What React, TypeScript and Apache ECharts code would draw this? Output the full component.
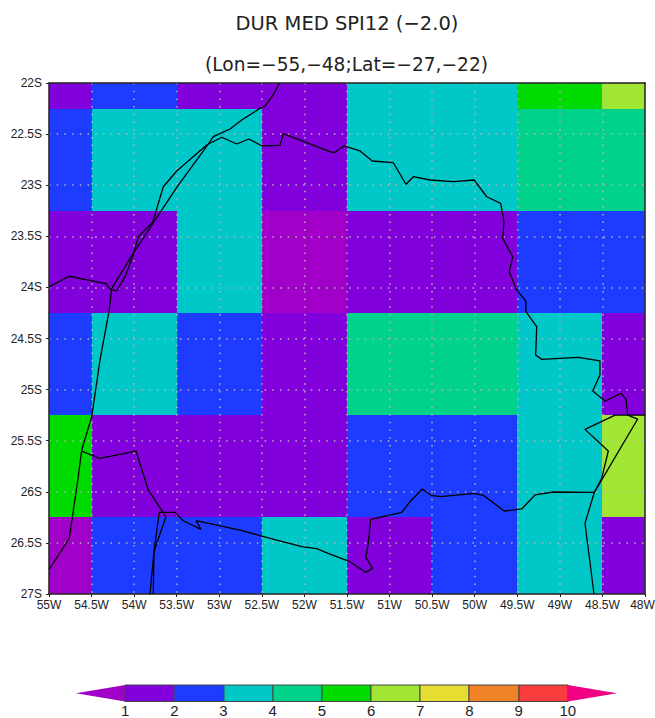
import React, { useEffect, useRef } from "react";
import * as echarts from "echarts";

const titleMain = "DUR MED SPI12 (−2.0)";
const titleSub = "(Lon=−55,−48;Lat=−27,−22)";

const lonEdges = [-55, -54.5, -53.5, -52.5, -51.5, -50.5, -49.5, -48.5, -48];
const latEdges = [-22, -22.25, -23.25, -24.25, -25.25, -26.25, -27];

// Duration class read per grid cell, north to south, west to east
const rowValues = [
  [1.5, 2.5, 1.5, 1.5, 3.5, 3.5, 5.5, 6.5],
  [2.5, 3.5, 3.5, 1.5, 3.5, 3.5, 4.5, 4.5],
  [1.5, 1.5, 3.5, 0.5, 1.5, 1.5, 2.5, 2.5],
  [2.5, 3.5, 2.5, 1.5, 4.5, 4.5, 3.5, 1.5],
  [5.5, 1.5, 1.5, 1.5, 2.5, 2.5, 3.5, 6.5],
  [0.5, 2.5, 2.5, 3.5, 1.5, 2.5, 3.5, 1.5],
];

const levels = [1, 2, 3, 4, 5, 6, 7, 8, 9, 10];
const palette = ["#a000c8", "#8200dc", "#1e3cff", "#00c8c8", "#00d28c", "#00dc00", "#a0e632", "#e6dc32", "#f08228", "#fa3c3c", "#f00082"];

const borderA = [
  [-52.295, -22.003], [-52.366, -22.117], [-52.463, -22.225], [-52.502, -22.238], [-52.737, -22.362], [-52.874, -22.45],
  [-53.07, -22.525], [-53.129, -22.597], [-53.5, -23.021], [-54.01, -23.666], [-54.264, -24.009], [-54.292, -24.221],
  [-54.401, -24.71], [-54.498, -25.265], [-54.616, -25.591], [-54.656, -25.852], [-54.762, -26.455], [-54.996, -26.758],
];
const borderB = [
  [-54.996, -23.993], [-54.762, -23.891], [-54.331, -23.964], [-54.272, -24.025], [-54.205, -24.035], [-54.107, -23.895],
  [-54.01, -23.683], [-53.951, -23.504], [-53.782, -23.363], [-53.658, -23.015], [-53.5, -22.861], [-53.148, -22.607],
  [-52.972, -22.531], [-52.795, -22.597], [-52.651, -22.548], [-52.502, -22.614], [-52.287, -22.61], [-52.248, -22.496],
  [-51.7, -22.672], [-51.653, -22.682], [-51.535, -22.616], [-51.347, -22.665], [-51.203, -22.763], [-50.956, -22.78],
  [-50.807, -22.991], [-50.721, -22.917], [-50.525, -22.949], [-50.252, -22.966], [-50.008, -22.949], [-49.859, -23.113],
  [-49.695, -23.177], [-49.656, -23.357], [-49.671, -23.52], [-49.554, -23.7], [-49.594, -23.846], [-49.507, -24.025],
  [-49.401, -24.133], [-49.398, -24.238], [-49.272, -24.385], [-49.284, -24.662], [-49.213, -24.704], [-48.783, -24.684],
  [-48.529, -24.72], [-48.529, -24.857], [-48.614, -25.014], [-48.47, -25.112], [-48.282, -25.036], [-48.223, -25.095],
  [-48.203, -25.249], [-48.086, -25.288], [-48.595, -26.005], [-48.705, -26.308], [-48.599, -27],
];
const borderC = [
  [-48, -25.249], [-48.352, -25.249], [-48.705, -25.389], [-48.431, -25.601], [-48.509, -25.868], [-48.595, -26.005],
  [-49.077, -26.002], [-49.292, -26.031], [-49.448, -26.168], [-49.653, -26.188], [-49.899, -26.034], [-50.008, -26.015],
  [-50.396, -26.048], [-50.513, -26.034], [-50.616, -25.973], [-50.76, -26.097], [-50.858, -26.201], [-51.222, -26.269],
  [-51.25, -26.504], [-51.28, -26.641], [-51.198, -26.749], [-51.28, -26.788], [-51.465, -26.684], [-51.7, -26.609],
  [-51.856, -26.557], [-52.032, -26.537], [-52.502, -26.433], [-52.757, -26.374], [-53.273, -26.283], [-53.215, -26.367],
  [-53.423, -26.283], [-53.52, -26.201], [-53.705, -26.201], [-53.767, -26.586], [-53.775, -27],
];
const borderD = [
  [-54.616, -25.601], [-54.401, -25.672], [-53.978, -25.601], [-53.834, -25.982], [-53.626, -26.244], [-53.735, -26.504],
  [-53.767, -26.586], [-53.814, -27],
];

const colorOf = (v: number) => {
  const i = levels.findIndex((l) => v < l);
  return palette[i < 0 ? palette.length - 1 : i];
};

const cells: number[][] = [];
rowValues.forEach((row, r) =>
  row.forEach((v, c) => cells.push([lonEdges[c], latEdges[r + 1], lonEdges[c + 1], latEdges[r], v]))
);
const barBins = palette.map((_, i) => [i, i + 1, i]);

const LABEL_FONT = "'Liberation Sans', Arial, sans-serif";
const TITLE_FONT = "'DejaVu Sans', sans-serif";

const borderSeries = [borderA, borderB, borderC, borderD].map((data) => ({
  type: "line",
  xAxisIndex: 0,
  yAxisIndex: 0,
  data,
  showSymbol: false,
  symbol: "none",
  z: 6,
  silent: true,
  lineStyle: { color: "#000", width: 1.3 },
}));

const dotted = { show: true, lineStyle: { color: "#b4b4b4", width: 1.5, type: [1.5, 6.2] as number[] } };

export default function App() {
  const ref = useRef<HTMLDivElement>(null);
  useEffect(() => {
    const chart = echarts.init(ref.current!, null, { renderer: "svg" });
    chart.setOption({
      animation: false,
      backgroundColor: "#fff",
      title: [
        { text: titleMain, left: 347, top: 13, padding: 0, textAlign: "center", textStyle: { fontFamily: TITLE_FONT, fontSize: 19.5, fontWeight: "normal", color: "#222" } },
        { text: titleSub, left: 346.5, top: 55, padding: 0, textAlign: "center", textStyle: { fontFamily: TITLE_FONT, fontSize: 18.6, fontWeight: "normal", color: "#222" } },
      ],
      grid: [
        { left: 49, top: 83, width: 596, height: 511, outerBoundsMode: "none" },
        { left: 76, top: 685, width: 541, height: 16.5, outerBoundsMode: "none" },
      ],
      xAxis: [
        {
          gridIndex: 0, type: "value", min: -55, max: -48, interval: 0.5, z: 4,
          axisLine: { show: true, onZero: false, lineStyle: { color: "#222", width: 1.5 } },
          axisTick: { show: true, length: 3, lineStyle: { color: "#222" } },
          axisLabel: {
            margin: 5, showMinLabel: true, showMaxLabel: true, color: "#222", fontFamily: LABEL_FONT, fontSize: 12,
            formatter: (v: number) => (v === -48 ? `{last|${Math.abs(v)}W}` : `${Math.abs(v)}W`),
            rich: { last: { color: "#222", fontFamily: LABEL_FONT, fontSize: 12, padding: [0, 5, 0, 0] } },
          },
          splitLine: dotted,
        },
        {
          gridIndex: 0, type: "value", min: -55, max: -48, position: "top",
          axisLine: { show: true, onZero: false, lineStyle: { color: "#222", width: 1.5 } },
          axisTick: { show: false }, axisLabel: { show: false }, splitLine: { show: false }, z: 4,
        },
        {
          gridIndex: 1, type: "value", min: 0, max: 11, interval: 1,
          axisLine: { show: false }, axisTick: { show: false }, splitLine: { show: false },
          axisLabel: { margin: 1, color: "#222", fontFamily: LABEL_FONT, fontSize: 15, formatter: (v: number) => (levels.includes(v) ? String(v) : "") },
        },
      ],
      yAxis: [
        {
          gridIndex: 0, type: "value", min: -27, max: -22, interval: 0.5, z: 4,
          axisLine: { show: true, onZero: false, lineStyle: { color: "#222", width: 1.5 } },
          axisTick: { show: true, length: 3, lineStyle: { color: "#222" } },
          axisLabel: { margin: 7, showMinLabel: true, showMaxLabel: true, color: "#222", fontFamily: LABEL_FONT, fontSize: 12, formatter: (v: number) => `${Math.abs(v)}S` },
          splitLine: dotted,
        },
        {
          gridIndex: 0, type: "value", min: -27, max: -22, position: "right",
          axisLine: { show: true, onZero: false, lineStyle: { color: "#222", width: 1.5 } },
          axisTick: { show: false }, axisLabel: { show: false }, splitLine: { show: false }, z: 4,
        },
        { gridIndex: 1, type: "value", min: 0, max: 1, show: false },
      ],
      series: [
        {
          type: "custom",
          xAxisIndex: 0,
          yAxisIndex: 0,
          z: 1,
          silent: true,
          data: cells,
          encode: { x: [0, 2], y: [1, 3] },
          renderItem: (_: any, api: any) => {
            const a = api.coord([api.value(0), api.value(3)]);
            const b = api.coord([api.value(2), api.value(1)]);
            const x = Math.round(a[0]);
            const y = Math.round(a[1]);
            return {
              type: "rect",
              shape: { x, y, width: Math.round(b[0]) - x, height: Math.round(b[1]) - y },
              style: { fill: colorOf(api.value(4)) },
            };
          },
        },
        {
          type: "custom",
          xAxisIndex: 2,
          yAxisIndex: 2,
          z: 1,
          silent: true,
          data: barBins,
          encode: { x: [0, 1] },
          renderItem: (_: any, api: any) => {
            const from = api.value(0);
            const to = api.value(1);
            const i = api.value(2);
            const l = api.coord([from, 0])[0];
            const r = api.coord([to, 0])[0];
            const bot = api.coord([from, 0])[1];
            const top = api.coord([from, 1])[1];
            const mid = (bot + top) / 2;
            const fill = palette[i];
            if (i === 0) {
              return { type: "polygon", shape: { points: [[l, mid], [r, top], [r, bot]] }, style: { fill } };
            }
            if (i === palette.length - 1) {
              return { type: "polygon", shape: { points: [[r, mid], [l, top], [l, bot]] }, style: { fill } };
            }
            return {
              type: "rect",
              shape: { x: Math.round(l), y: top, width: Math.round(r) - Math.round(l), height: bot - top },
              style: { fill, stroke: "#444", lineWidth: 1 },
            };
          },
        },
        ...borderSeries,
      ],
    });
    return () => chart.dispose();
  }, []);
  return <div ref={ref} style={{ position: "absolute", left: 0, top: 0, width: 655, height: 718 }} />;
}
